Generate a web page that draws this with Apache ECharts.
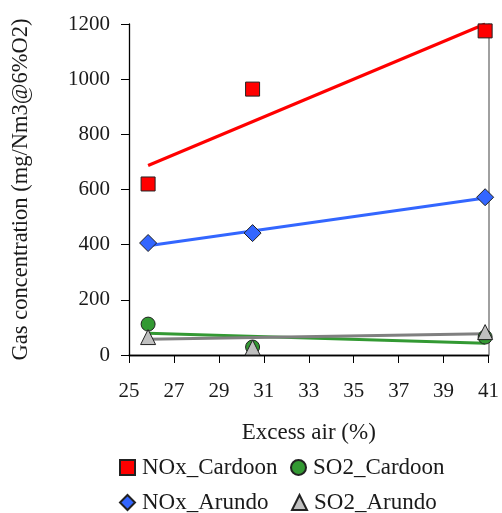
<!DOCTYPE html>
<html>
<head>
<meta charset="utf-8">
<script src="https://cdn.jsdelivr.net/npm/echarts@6/dist/echarts.min.js"></script>
<style>
  html, body { margin: 0; padding: 0; background: #fff; }
  #main { width: 502px; height: 513px; }
</style>
</head>
<body>
<div id="main"></div>
<script>
var chartDom = document.getElementById('main');
var myChart = echarts.init(chartDom);
var option;

// 测量点 (excess air %)
const excessAir = [25.85, 30.5, 40.85];
const noxCardoon = [620, 964, 1175];
const noxArundo = [406, 442, 572];
const so2Cardoon = [112, 29, 65];
const so2Arundo = [65, 27, 83];

// 趋势线端点
const trendX = [25.85, 40.85];
const trendNoxCardoon = [687, 1200];
const trendNoxArundo = [396, 569];
const trendSo2Cardoon = [79, 43];
const trendSo2Arundo = [57, 77];

const pair = (xs, ys) => xs.map((x, i) => [x, ys[i]]);

const font = "'Liberation Serif', 'DejaVu Serif', serif";
const textColor = '#1a1a1a';

const trendLine = (vals, color, width) => ({
  type: 'line',
  data: pair(trendX, vals),
  showSymbol: false,
  symbol: 'none',
  silent: true,
  z: 2,
  lineStyle: { color: color, width: width }
});

const points = (name, vals, symbol, size, color, z) => ({
  type: 'scatter',
  name: name,
  data: pair(excessAir, vals),
  symbol: symbol,
  symbolSize: size,
  z: z,
  itemStyle: { color: color, borderColor: '#222', borderWidth: 1, opacity: 1 }
});

const legendAt = (name, left, top) => ({
  data: [name],
  left: left,
  top: top,
  padding: 0,
  itemWidth: 15,
  itemHeight: 15,
  itemGap: 0,
  selectedMode: false,
  itemStyle: { opacity: 1 },
  textStyle: { fontFamily: font, fontSize: 23, color: textColor, padding: [0, 0, 0, 2] }
});

option = {
  animation: false,
  backgroundColor: '#fff',
  grid: { left: 129, right: 11, top: 24, bottom: 158 },
  legend: [
    legendAt('NOx_Cardoon', 119, 456),
    legendAt('SO2_Cardoon', 290, 456),
    legendAt('NOx_Arundo', 119, 491),
    legendAt('SO2_Arundo', 291, 491)
  ],
  xAxis: [
    {
      type: 'value',
      min: 25,
      max: 41,
      interval: 2,
      name: 'Excess air (%)',
      nameLocation: 'middle',
      nameGap: 66,
      nameTextStyle: { fontFamily: font, fontSize: 23, color: textColor },
      axisLine: { lineStyle: { color: '#000', width: 1.3 } },
      axisTick: { show: true, inside: false, length: 8, lineStyle: { color: '#000' } },
      axisLabel: { fontFamily: font, fontSize: 21, color: textColor, margin: 26 },
      splitLine: { show: false }
    },
    {
      type: 'value',
      position: 'top',
      min: 25,
      max: 41,
      axisLine: { show: true, lineStyle: { color: '#000', width: 1.3 } },
      axisTick: { show: false },
      axisLabel: { show: false },
      splitLine: { show: false }
    }
  ],
  yAxis: [
    {
      type: 'value',
      min: 0,
      max: 1200,
      interval: 200,
      name: 'Gas concentration (mg/Nm3@6%O2)',
      nameLocation: 'middle',
      nameGap: 96,
      nameTextStyle: { fontFamily: font, fontSize: 22.5, color: textColor },
      axisLine: { show: true, lineStyle: { color: '#000', width: 1.3 } },
      axisTick: { show: true, length: 8, lineStyle: { color: '#000' } },
      axisLabel: { fontFamily: font, fontSize: 21, color: textColor, margin: 19, formatter: v => String(v) },
      splitLine: { show: false }
    },
    {
      type: 'value',
      position: 'right',
      min: 0,
      max: 1200,
      axisLine: { show: true, lineStyle: { color: '#808080', width: 1.5 } },
      axisTick: { show: false },
      axisLabel: { show: false },
      splitLine: { show: false }
    }
  ],
  series: [
    trendLine(trendNoxCardoon, '#ff0000', 3),
    trendLine(trendNoxArundo, '#3366ff', 3),
    trendLine(trendSo2Cardoon, '#339933', 3),
    trendLine(trendSo2Arundo, '#808080', 3),
    points('NOx_Cardoon', noxCardoon, 'rect', 14, '#ff0000', 5),
    points('NOx_Arundo', noxArundo, 'diamond', 17, '#3366ff', 5),
    points('SO2_Cardoon', so2Cardoon, 'circle', 14, '#339933', 6),
    points('SO2_Arundo', so2Arundo, 'triangle', 15, '#c0c0c0', 7)
  ]
};

option && myChart.setOption(option);
</script>
</body>
</html>
